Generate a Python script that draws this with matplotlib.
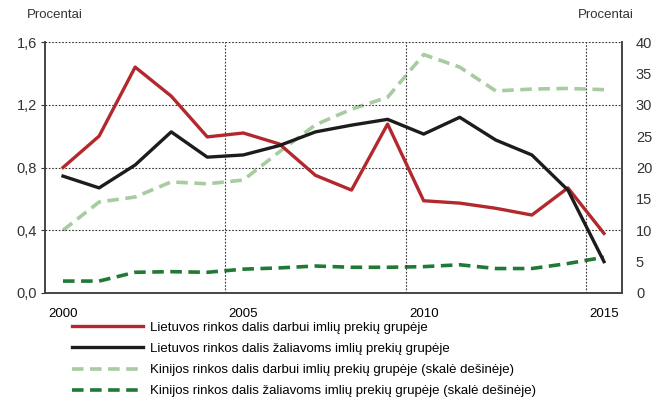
import matplotlib
matplotlib.use("Agg")
import matplotlib.pyplot as plt
from matplotlib.ticker import FuncFormatter

plt.rcParams['font.family'] = ['Liberation Sans', 'DejaVu Sans']

years = list(range(2000, 2016))
lt_labour = [0.80, 1.00, 1.44, 1.255, 0.995, 1.02, 0.95, 0.75, 0.656, 1.077,
             0.588, 0.573, 0.54, 0.497, 0.67, 0.38]
lt_raw = [0.745, 0.67, 0.816, 1.027, 0.866, 0.88, 0.94, 1.027, 1.07, 1.107,
          1.013, 1.12, 0.975, 0.88, 0.656, 0.20]
cn_labour = [10.0, 14.5, 15.3, 17.7, 17.4, 18.0, 22.5, 26.8, 29.3, 31.2,
             38.0, 36.0, 32.2, 32.5, 32.6, 32.4]
cn_raw = [1.9, 1.9, 3.3, 3.4, 3.3, 3.8, 4.0, 4.3, 4.1, 4.1,
          4.2, 4.5, 3.9, 3.9, 4.7, 5.7]

labels = [
    "Lietuvos rinkos dalis darbui imlių prekių grupėje",
    "Lietuvos rinkos dalis žaliavoms imlių prekių grupėje",
    "Kinijos rinkos dalis darbui imlių prekių grupėje (skalė dešinėje)",
    "Kinijos rinkos dalis žaliavoms imlių prekių grupėje (skalė dešinėje)",
]

x = [i + 0.5 for i in range(len(years))]

fig = plt.figure(figsize=(6.52, 4.0), dpi=100)
ax = fig.add_axes([0.069, 0.2675, 0.885, 0.6275])
ax2 = ax.twinx()

red = '#b3282d'
black = '#1c1c1c'
lgreen = '#a6cc9f'
dgreen = '#1f7a35'

l3, = ax2.plot(x, cn_labour, color=lgreen, lw=2.6, dashes=(3.2, 1.8))
l4, = ax2.plot(x, cn_raw, color=dgreen, lw=2.6, dashes=(3.2, 1.8))
l1, = ax.plot(x, lt_labour, color=red, lw=2.4)
l2, = ax.plot(x, lt_raw, color=black, lw=2.4)
ax.set_zorder(ax2.get_zorder() + 1)
ax.patch.set_visible(False)

ax.set_xlim(0, 16)
ax.set_ylim(0, 1.6)
ax2.set_ylim(0, 40)
ax.set_yticks([0, 0.4, 0.8, 1.2, 1.6])
ax.yaxis.set_major_formatter(FuncFormatter(lambda v, p: f"{v:.1f}".replace('.', ',')))
ax2.set_yticks(range(0, 41, 5))

ax.set_xticks([0.5, 5.5, 10.5, 15.5])
ax.set_xticklabels(['2000', '2005', '2010', '2015'])
ax.set_xticks([5, 10, 15], minor=True)
ax.tick_params(axis='x', which='both', length=0, labelsize=9.5, pad=11)
ax.tick_params(axis='y', length=3, labelsize=10.5, colors='#333333', pad=3)
ax2.tick_params(axis='y', length=0, labelsize=10.5, colors='#333333', pad=10)

ax.grid(True, which='minor', axis='x', color='#333333', ls=(0, (1.5, 1.5)), lw=0.8)
ax.grid(True, which='major', axis='y', color='#333333', ls=(0, (1.5, 1.5)), lw=0.8)
ax.grid(False, which='major', axis='x')

for a in (ax, ax2):
    a.spines['top'].set_visible(False)
    for s in ('left', 'right', 'bottom'):
        a.spines[s].set_color('#444444')
        a.spines[s].set_linewidth(1.2)
ax.set_axisbelow(True)

fig.text(0.041, 0.955, 'Procentai', fontsize=9.5, color='#333333')
fig.text(0.972, 0.955, 'Procentai', fontsize=9.5, color='#333333', ha='right')

fig.legend([l1, l2, l3, l4], labels, loc='upper left', bbox_to_anchor=(0.11, 0.196),
           frameon=False, fontsize=9.5, handlelength=5.4, handletextpad=0.5,
           labelspacing=0.68, borderpad=0, borderaxespad=0)

fig.savefig('out.png', dpi=100)
